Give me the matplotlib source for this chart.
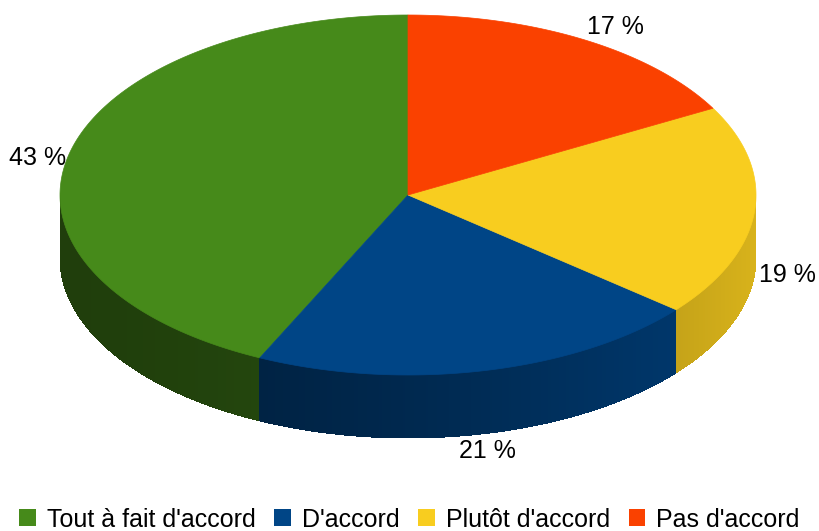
"""3D pie chart: niveau d'accord."""
import numpy as np
import matplotlib
matplotlib.use("Agg")
import matplotlib.pyplot as plt
from matplotlib.patches import Polygon, Patch
from matplotlib.collections import PolyCollection
from matplotlib.colors import to_rgb

plt.rcParams["font.family"] = ["Liberation Sans", "DejaVu Sans"]

categories = ["Tout à fait d'accord", "D'accord", "Plutôt d'accord", "Pas d'accord"]
values = [43, 21, 19, 17]
colors = ["#468a1a", "#004586", "#f8cd1f", "#fa4100"]
pct_labels = ["43 %", "21 %", "19 %", "17 %"]
label_xy = [(38, 158), (487, 451), (787, 275), (615, 27)]

cx, cy, rx, ry, depth = 408, 195, 348, 180, 63

fig = plt.figure(figsize=(8.19, 5.31), dpi=100)
ax = fig.add_axes([0, 0, 1, 1])
ax.set_xlim(0, 819)
ax.set_ylim(531, 0)
ax.axis("off")

fracs = np.array(values) / sum(values)
starts = 90 + 360 * np.concatenate([[0], np.cumsum(fracs)[:-1]])
ends = starts + 360 * fracs


def pt(a):
    r = np.radians(a)
    return cx + rx * np.cos(r), cy - ry * np.sin(r)


def shade(am):
    t = (np.cos(np.radians(am)) + 1) / 2
    return 0.45 + 0.42 * t ** 1.6


# side wall (front half only)
for s, e, c in zip(starts, ends, colors):
    base = np.array(to_rgb(c))
    angs = np.array([a for a in np.linspace(s, e, 300) if 180 <= a % 360 <= 360 or a % 360 < 0.5])
    if len(angs) < 2:
        continue
    # solid underlay so the strips don't show seams
    top = [pt(a) for a in angs]
    bot = [(x, y + depth) for x, y in top[::-1]]
    mid = np.clip(base * shade(angs.mean()), 0, 1)
    ax.add_patch(Polygon(top + bot, closed=True, facecolor=mid, edgecolor="none"))
    polys, cols = [], []
    for a0, a1 in zip(angs[:-1], angs[1:]):
        am = (a0 + a1) / 2
        x0, y0 = pt(a0)
        x1, y1 = pt(a1)
        polys.append([(x0, y0), (x1, y1), (x1, y1 + depth), (x0, y0 + depth)])
        cols.append(np.clip(base * shade(am), 0, 1))
    ax.add_collection(PolyCollection(polys, facecolors=cols, edgecolors="none",
                                     antialiaseds=False))

# top faces
for s, e, c in zip(starts, ends, colors):
    angs = np.linspace(s, e, 200)
    xy = [(cx, cy)] + [pt(a) for a in angs]
    ax.add_patch(Polygon(xy, closed=True, facecolor=c, edgecolor=c, linewidth=0.5))

for txt, (x, y) in zip(pct_labels, label_xy):
    ax.text(x, y, txt, ha="center", va="center", fontsize=18, color="#000000")

handles = [Patch(facecolor=c, edgecolor="none") for c in colors]
fig.legend(handles, categories, loc="lower center", ncol=4, frameon=False,
           fontsize=18, handlelength=0.65, handleheight=0.65, handletextpad=0.45,
           columnspacing=0.75, bbox_to_anchor=(0.5, -0.02), borderaxespad=0)

fig.savefig("out.png", dpi=100)
